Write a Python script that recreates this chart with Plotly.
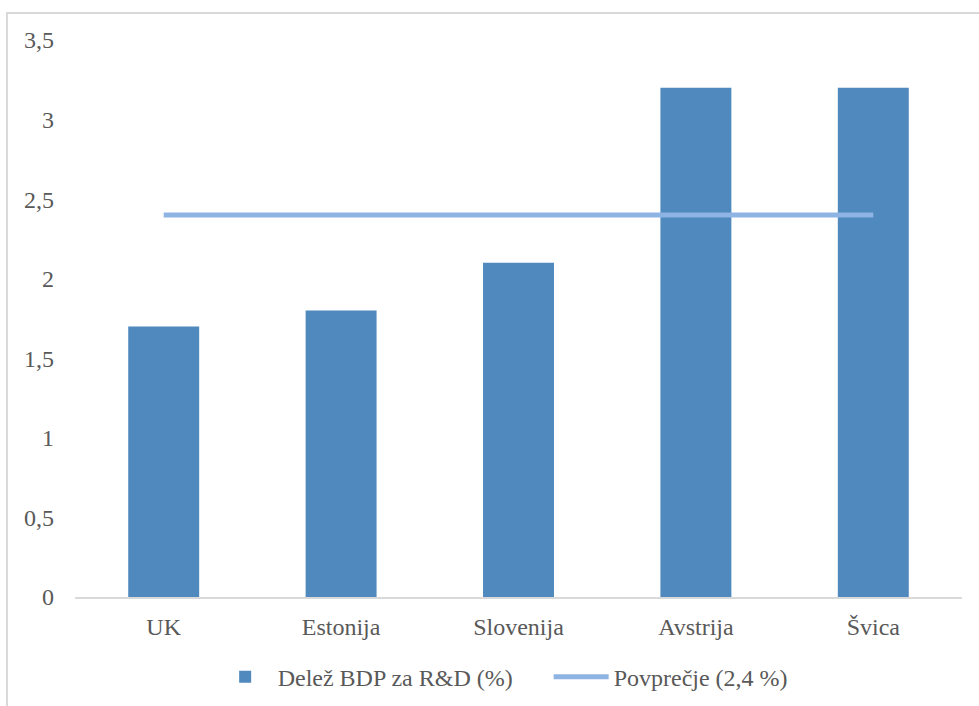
import plotly.graph_objects as go

# Data
countries = ["UK", "Estonija", "Slovenija", "Avstrija", "Švica"]
rd_share = [1.7, 1.8, 2.1, 3.2, 3.2]
average_value = 2.4
y_ticks = [0, 0.5, 1, 1.5, 2, 2.5, 3, 3.5]

bar_color = "#4F89BD"
line_color = "#8EB4E3"
text_color = "#595959"
frame_color = "#D9D9D9"
font_family = "Liberation Serif"

avg_label = "Povprečje ({} %)".format(str(average_value).replace(".", ","))

fig = go.Figure()
fig.add_trace(go.Bar(
    x=countries, y=rd_share, name="Delež BDP za R&D (%)",
    marker=dict(color=bar_color, line=dict(width=0)),
))
fig.add_trace(go.Scatter(
    x=countries, y=[average_value] * len(countries), name=avg_label,
    mode="lines", line=dict(color=line_color, width=5),
))

fig.update_layout(
    width=979, height=706,
    margin=dict(l=75, r=17, t=40, b=109),
    paper_bgcolor="white", plot_bgcolor="white",
    font=dict(family=font_family, size=24, color=text_color),
    separators=",.",
    bargap=0.6,
    showlegend=True,
    legend=dict(
        orientation="h", x=0.534, xanchor="center",
        yref="container", y=0.041, yanchor="middle",
        font=dict(family=font_family, size=24, color=text_color),
        traceorder="normal", itemwidth=55,
        entrywidth=266, entrywidthmode="pixels",
    ),
    xaxis=dict(
        showgrid=False, showline=True, linecolor=frame_color, linewidth=2,
        ticks="", ticklabelstandoff=7, zeroline=False, automargin=False,
    ),
    yaxis=dict(
        range=[0, 3.5], tickvals=y_ticks, showgrid=False, showline=False,
        zeroline=False, ticks="", ticklabelstandoff=20, automargin=False,
    ),
)

# Outer chart frame (top and left edges)
fig.add_shape(
    type="path", xref="paper", yref="paper",
    path="M -0.0767 -0.1957 L -0.0767 1.0485 L 1.02 1.0485",
    line=dict(color=frame_color, width=2),
)

fig.write_html("out.html")
